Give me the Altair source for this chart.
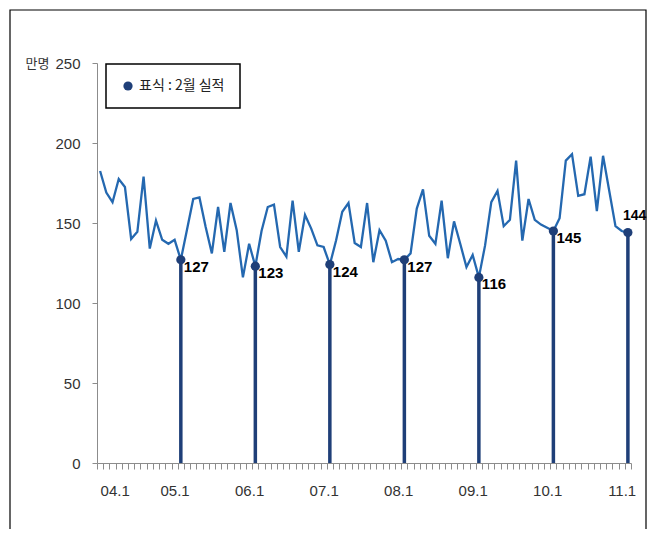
import altair as alt
import pandas as pd

# Monthly values, 2004.1 .. 2011.2 (unit: 만명)
values = [
    182.5, 169, 163, 177.5, 172.5, 140, 144.5, 179, 134, 151.5, 139.5, 137, 139.5,
    127, 146, 165, 166, 147.5, 131, 160, 132, 162.5, 145.5, 116, 137,
    123, 145, 160, 161.5, 135, 129, 164, 132, 155, 146.5, 136, 135,
    124, 139, 157, 162.5, 137.5, 135, 162.5, 125.5, 145.5, 139, 125.5, 127.5,
    127, 131, 159, 171, 142, 137, 164, 128, 151, 137, 122.5, 130,
    116, 136, 163, 170, 148, 152, 189, 139, 165, 152, 149, 147,
    145, 153, 189, 193, 167, 168, 191.5, 157.5, 192, 170, 148, 145,
    144,
]
tick_labels = ["04.1", "05.1", "06.1", "07.1", "08.1", "09.1", "10.1", "11.1"]
feb_values = [127, 123, 124, 127, 116, 145, 144]
legend_label = "표식 : 2월 실적"
unit_label = "만명"

n = len(values)
df = pd.DataFrame({"idx": list(range(n)), "value": values})
feb_idx = [13 + 12 * k for k in range(len(feb_values))]
feb = pd.DataFrame({"idx": feb_idx, "value": feb_values, "kind": [legend_label] * len(feb_values)})
feb_main = feb.iloc[:-1]
feb_last = feb.iloc[-1:]

NAVY = "#1F3F78"
BLUE = "#2468B0"
NUMFONT = "Liberation Sans"
KFONT = "Noto Sans CJK KR"

label_arr = "[" + ",".join("'" + t + "'" for t in tick_labels) + "]"
x_enc = alt.X(
    "idx:Q",
    scale=alt.Scale(domain=[-0.5, n - 0.5], nice=False, zero=False),
    axis=alt.Axis(
        values=[k - 0.5 for k in range(n + 1)],
        labelExpr=label_arr + "[(datum.value + 0.5) / 12] || ''",
        labelOffset=3.1,
        labelOverlap=False,
        labelFont=NUMFONT,
        labelFontSize=15,
        labelColor="#333333",
        labelPadding=14,
        tickSize=6,
        tickColor="#8c8c8c",
        domainColor="#8c8c8c",
        grid=False,
        title=None,
    ),
)
y_enc = alt.Y(
    "value:Q",
    scale=alt.Scale(domain=[0, 250], nice=False),
    axis=alt.Axis(
        values=[0, 50, 100, 150, 200, 250],
        labelFont=NUMFONT,
        labelFontSize=15,
        labelColor="#333333",
        labelPadding=12,
        tickSize=5,
        tickColor="#8c8c8c",
        domainColor="#8c8c8c",
        grid=False,
        title=unit_label,
        titleAngle=0,
        titleX=-60,
        titleY=0,
        titleAlign="center",
        titleBaseline="middle",
        titleFont=KFONT,
        titleFontSize=13,
        titleFontWeight="normal",
        titleColor="#333333",
    ),
)

frame = alt.Chart(pd.DataFrame({"a": [0]})).mark_rect(
    filled=False, stroke="black", strokeWidth=1.2
).encode(x=alt.value(-87), x2=alt.value(549), y=alt.value(-53), y2=alt.value(520))

stems = alt.Chart(feb).mark_rule(color=NAVY, strokeWidth=3.5).encode(
    x=x_enc, y=y_enc, y2=alt.datum(0)
)
line = alt.Chart(df).mark_line(color=BLUE, strokeWidth=2.3).encode(x=x_enc, y=y_enc)
points = alt.Chart(feb).mark_circle(size=85, opacity=1).encode(
    x=x_enc,
    y=y_enc,
    color=alt.Color(
        "kind:N",
        scale=alt.Scale(range=[NAVY]),
        legend=alt.Legend(
            title=None,
            orient="none",
            legendX=9,
            legendY=1,
            padding=15,
            strokeColor="black",
            symbolType="circle",
            symbolSize=85,
            symbolStrokeWidth=0,
            labelFont=KFONT,
            labelFontSize=14,
            labelColor="#222222",
        ),
    ),
)
labels_main = alt.Chart(feb_main).mark_text(
    align="left", baseline="middle", dx=3, dy=7, font=NUMFONT, fontSize=15,
    fontWeight="bold", color="black"
).encode(x=x_enc, y=y_enc, text=alt.Text("value:Q"))
labels_last = alt.Chart(feb_last).mark_text(
    align="left", baseline="middle", dx=-5, dy=-17, font=NUMFONT, fontSize=14,
    fontWeight="bold", color="black"
).encode(x=x_enc, y=y_enc, text=alt.Text("value:Q"))

chart = alt.layer(frame, stems, line, points, labels_main, labels_last).properties(
    width=534,
    height=400,
    autosize=alt.AutoSizeParams(type="none"),
    padding={"left": 89, "top": 55, "right": 17, "bottom": 66},
).configure_view(stroke=None).configure_legend(strokeWidth=1.5)

chart.save("out.html", embed_options={"renderer": "svg", "actions": False})
